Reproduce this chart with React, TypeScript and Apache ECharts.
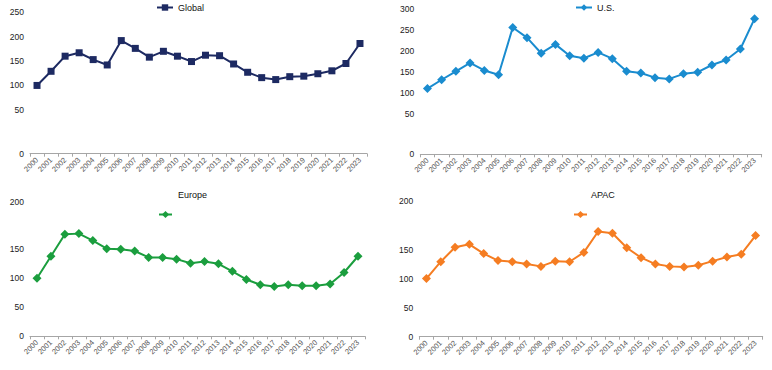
import React, { useEffect, useRef } from "react";
import * as echarts from "echarts";

const years = [
  "2000","2001","2002","2003","2004","2005","2006","2007","2008","2009","2010","2011",
  "2012","2013","2014","2015","2016","2017","2018","2019","2020","2021","2022","2023",
];

const globalValues = [100, 129, 160, 167, 153, 142, 192, 176, 158, 170, 160, 149, 162, 161, 144, 127, 116, 112, 118, 119, 124, 130, 145, 186];
const usValues = [111, 132, 152, 172, 154, 144, 256, 232, 195, 216, 189, 183, 197, 182, 152, 148, 137, 134, 146, 150, 167, 179, 205, 277];
const europeValues = [100, 138, 176, 177, 165, 151, 150, 147, 136, 136, 133, 126, 129, 125, 112, 98, 89, 86, 89, 87, 87, 90, 110, 138];
const apacValues = [100, 129, 154, 159, 143, 131, 129, 125, 121, 130, 129, 145, 181, 178, 153, 136, 125, 121, 120, 123, 130, 137, 142, 174];

const globalTicks = [-40, 50, 100, 150, 200, 250];
const usTicks = [-45, 50, 100, 150, 200, 250, 300];
const europeTicks = [0, 50, 100, 150, 231];
const apacTicks = [0, 50, 100, 150, 234];

const FONT = 'Arial, "Liberation Sans", sans-serif';

export default function App() {
  const ref = useRef<HTMLDivElement>(null);
  useEffect(() => {
    if (!ref.current) return;
    const chart = echarts.init(ref.current, null, { renderer: "svg" });

    const xAxis = (gridIndex: number) => ({
      type: "category",
      gridIndex,
      data: years,
      boundaryGap: true,
      axisLine: { onZero: false, lineStyle: { color: "#a6a6a6", width: 1 } },
      axisTick: { show: true, length: 3, lineStyle: { color: "#a6a6a6" } },
      splitLine: { show: false },
      axisLabel: {
        rotate: 45,
        fontSize: 7.5,
        color: "#555",
        margin: 5,
        interval: 0,
        fontFamily: FONT,
      },
    });

    const yAxis = (
      gridIndex: number,
      min: number,
      max: number,
      ticks: number[],
      fmt: (v: number) => string
    ) => ({
      type: "value",
      gridIndex,
      min,
      max,
      axisLine: { show: false },
      axisTick: { show: false },
      splitLine: { show: false },
      axisLabel: {
        customValues: ticks,
        fontSize: 8.5,
        color: "#222",
        margin: 6,
        fontFamily: FONT,
        formatter: (v: number) => fmt(v),
      },
    });

    const series = (
      name: string,
      idx: number,
      data: number[],
      color: string,
      symbol: string,
      size: number
    ) => ({
      type: "line",
      name,
      xAxisIndex: idx,
      yAxisIndex: idx,
      data,
      symbol,
      symbolSize: size,
      lineStyle: { color, width: 2 },
      itemStyle: { color },
      color,
    });

    const titleStyle = { fontSize: 9, fontWeight: "normal", color: "#111", fontFamily: FONT };

    chart.setOption({
      animation: false,
      textStyle: { fontFamily: FONT },
      grid: [
        { left: 30, top: 12.3, width: 337, height: 141.4 },
        { left: 420.3, top: 9, width: 341.4, height: 145.3 },
        { left: 30, top: 202.3, width: 335, height: 134 },
        { left: 419.3, top: 200.7, width: 343.4, height: 136 },
      ],
      title: [
        { text: "Europe", left: 178, top: 190, padding: 0, textStyle: titleStyle },
        { text: "APAC", left: 591, top: 190, padding: 0, textStyle: titleStyle },
      ],
      legend: [
        {
          data: ["Global"],
          left: 156,
          top: 3,
          padding: 0,
          itemWidth: 16,
          itemHeight: 8,
          textStyle: { fontSize: 9, color: "#111", fontFamily: FONT },
        },
        {
          data: ["U.S."],
          left: 575,
          top: 3,
          padding: 0,
          itemWidth: 16,
          itemHeight: 8,
          textStyle: { fontSize: 9, color: "#111", fontFamily: FONT },
        },
        {
          data: ["Europe"],
          left: 158,
          top: 210,
          padding: 0,
          itemWidth: 13,
          itemHeight: 9,
          formatter: () => "",
        },
        {
          data: ["APAC"],
          left: 573,
          top: 210,
          padding: 0,
          itemWidth: 13,
          itemHeight: 9,
          formatter: () => "",
        },
      ],
      xAxis: [xAxis(0), xAxis(1), xAxis(2), xAxis(3)],
      yAxis: [
        yAxis(0, -40, 250, globalTicks, (v) => (v < 0 ? "0" : String(v))),
        yAxis(1, -45, 300, usTicks, (v) => (v < 0 ? "0" : String(v))),
        yAxis(2, 0, 231, europeTicks, (v) => (v > 200 ? "200" : String(v))),
        yAxis(3, 0, 234, apacTicks, (v) => (v > 200 ? "200" : String(v))),
      ],
      series: [
        series("Global", 0, globalValues, "#1d2a62", "rect", 7),
        series("U.S.", 1, usValues, "#1a8ccf", "diamond", 9),
        series("Europe", 2, europeValues, "#1b9e3e", "diamond", 9),
        series("APAC", 3, apacValues, "#f57d22", "diamond", 9),
      ],
    });

    return () => chart.dispose();
  }, []);

  return (
    <div
      ref={ref}
      style={{ position: "fixed", left: 0, top: 0, width: 772, height: 370, background: "#fff" }}
    />
  );
}
